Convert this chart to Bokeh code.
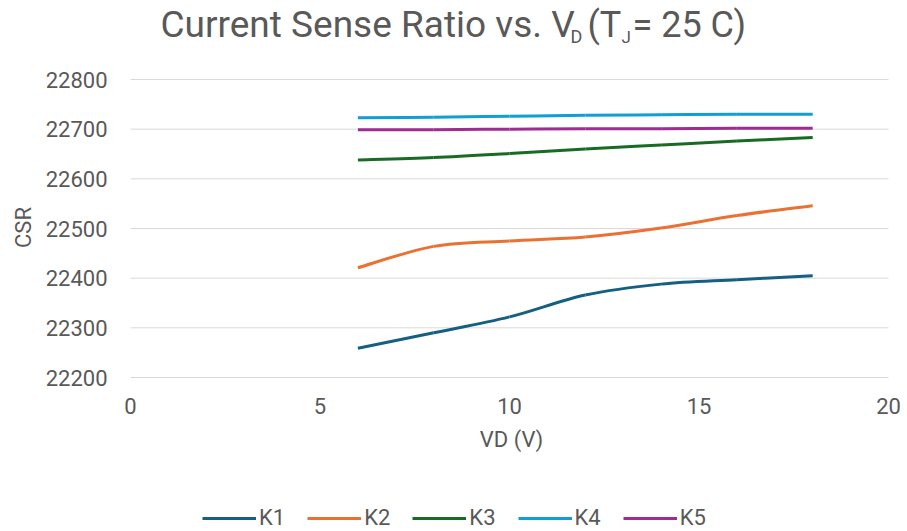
import math
from bokeh.plotting import figure
from bokeh.models import Range1d, Label, Legend, LegendItem, ColumnDataSource, FixedTicker
from bokeh.embed import file_html
from bokeh.resources import INLINE

# ---- data ----
vd = [6, 8, 10, 12, 14, 16, 18]
k1 = [22259, 22290, 22322, 22366, 22388, 22397, 22405]
k2 = [22421, 22464, 22475, 22483, 22501, 22526, 22546]
k3 = [22638, 22643, 22651, 22660, 22668, 22676, 22683]
k4 = [22723, 22724, 22726, 22728, 22729, 22730, 22730]
k5 = [22699, 22699, 22700, 22701, 22701, 22702, 22702]
series_names = ["K1", "K2", "K3", "K4", "K5"]
series_colors = ["#156082", "#E97132", "#196B24", "#0F9ED5", "#A02B93"]
x_ticks = [0, 5, 10, 15, 20]
y_ticks = [22200, 22300, 22400, 22500, 22600, 22700, 22800]

FONT = "Roboto"
GRAY = "#595959"

# layout (pixels): the plot area spans x 130..888 and y 79..377; the frame is
# extended beyond it so that title, legend and end tick labels are not clipped.
W, H = 907, 531
FRAME_LEFT = 115
PLOT_LEFT, PLOT_RIGHT = 130, 888
PLOT_TOP, PLOT_BOTTOM = 79, 377
x_lo, x_hi = min(x_ticks), max(x_ticks)
y_lo, y_hi = min(y_ticks), max(y_ticks)
upp_y = (y_hi - y_lo) / (PLOT_BOTTOM - PLOT_TOP)
upp_x = (x_hi - x_lo) / (PLOT_RIGHT - PLOT_LEFT)
x_start = x_lo - (PLOT_LEFT - FRAME_LEFT) * upp_x
x_end = x_hi + (W - PLOT_RIGHT) * upp_x
y_start = y_lo - (H - PLOT_BOTTOM) * upp_y
y_end = y_hi + PLOT_TOP * upp_y

p = figure(width=W, height=H, output_backend="svg", toolbar_location=None,
           x_range=Range1d(x_start, x_end), y_range=Range1d(y_start, y_end),
           min_border_left=FRAME_LEFT, min_border_right=0, min_border_top=0, min_border_bottom=0)
p.outline_line_color = None
p.grid.visible = False

for ax in (p.xaxis[0], p.yaxis[0]):
    ax.axis_line_color = None
    ax.major_tick_line_color = None
    ax.minor_tick_line_color = None
    ax.major_tick_out = 0
    ax.major_tick_in = 0
    ax.minor_tick_out = 0
    ax.major_label_text_font = FONT
    ax.major_label_text_font_size = "22px"
    ax.major_label_text_color = GRAY
    ax.axis_label_text_font = FONT
    ax.axis_label_text_font_size = "22px"
    ax.axis_label_text_color = GRAY
    ax.axis_label_text_font_style = "normal"

p.xaxis.ticker = FixedTicker(ticks=x_ticks)
p.yaxis.ticker = FixedTicker(ticks=y_ticks)
p.xaxis.fixed_location = y_lo
p.xaxis.axis_label = "VD (V)"
p.xaxis.major_label_standoff = 20
p.xaxis.axis_label_standoff = 10
p.yaxis.major_label_standoff = 8

# horizontal gridlines across the plot area only (at the y ticks)
p.segment(x0=[x_lo] * len(y_ticks), x1=[x_hi] * len(y_ticks), y0=y_ticks, y1=y_ticks,
          line_color="#D9D9D9", line_width=1)

# y-axis title as a rotated label in the left panel
p.add_layout(Label(x=6, y=H - 227, x_units="screen", y_units="screen", text="CSR",
                   angle=math.pi / 2, text_font=FONT, text_font_size="22px",
                   text_color=GRAY, text_align="center", text_baseline="middle"), "left")


def bezier_source(xs, ys):
    n = len(xs)
    P = list(zip(xs, ys))
    d = dict(x0=[], y0=[], x1=[], y1=[], cx0=[], cy0=[], cx1=[], cy1=[])
    for i in range(n - 1):
        p0 = P[i - 1] if i > 0 else P[i]
        p1 = P[i]
        p2 = P[i + 1]
        p3 = P[i + 2] if i + 2 < n else P[i + 1]
        d["x0"].append(p1[0]); d["y0"].append(p1[1])
        d["x1"].append(p2[0]); d["y1"].append(p2[1])
        d["cx0"].append(p1[0] + (p2[0] - p0[0]) / 6.0)
        d["cy0"].append(p1[1] + (p2[1] - p0[1]) / 6.0)
        d["cx1"].append(p2[0] - (p3[0] - p1[0]) / 6.0)
        d["cy1"].append(p2[1] - (p3[1] - p1[1]) / 6.0)
    return ColumnDataSource(d)


items = []
for name, ys, col in zip(series_names, [k1, k2, k3, k4, k5], series_colors):
    src = bezier_source(vd, ys)
    r = p.bezier(x0="x0", y0="y0", x1="x1", y1="y1", cx0="cx0", cy0="cy0",
                 cx1="cx1", cy1="cy1", source=src, line_color=col, line_width=3)
    items.append(LegendItem(label=name, renderers=[r]))

legend = Legend(items=items, orientation="horizontal", location=(202 - FRAME_LEFT, 1),
                padding=0, margin=0, spacing=22, glyph_width=54, glyph_height=20,
                label_standoff=3, label_height=20,
                label_text_font=FONT, label_text_font_size="22px", label_text_color=GRAY,
                border_line_color=None, background_fill_alpha=0)
p.add_layout(legend)

# title with subscripts (screen units from the frame's bottom-left corner)
title_parts = [
    ("Current Sense Ratio vs. V", 160, 24, "37px"),
    ("D", 570, 36, "18px"),
    ("(T", 587, 24, "36px"),
    ("J", 621, 36, "17px"),
    ("= 25 C)", 632, 24, "36px"),
]
for txt, px, py, fs in title_parts:
    p.add_layout(Label(x=px - FRAME_LEFT, y=H - py, x_units="screen", y_units="screen", text=txt,
                       text_font=FONT, text_font_size=fs, text_color=GRAY,
                       text_baseline="alphabetic", text_align="left"))

open("out.html", "w").write(file_html(p, INLINE))
